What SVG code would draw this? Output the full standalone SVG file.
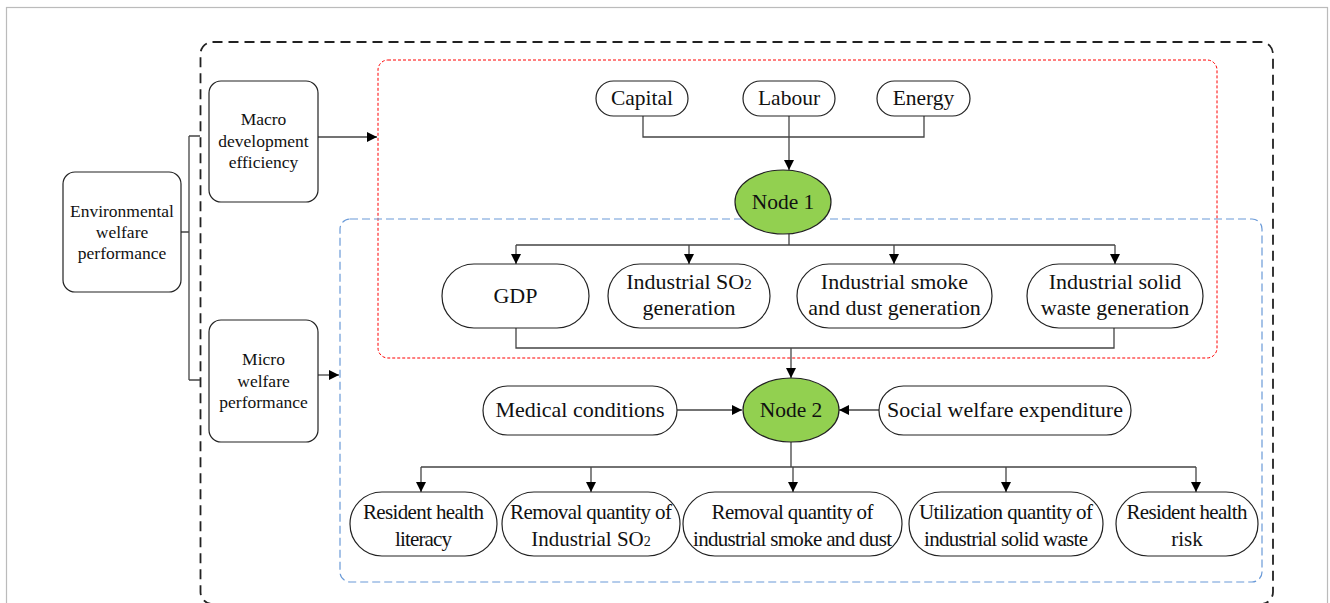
<svg xmlns="http://www.w3.org/2000/svg" width="1330" height="603" viewBox="0 0 1330 603">
<defs>
<marker id="ah" viewBox="0 0 10 10" refX="10" refY="5" markerWidth="10" markerHeight="10" markerUnits="userSpaceOnUse" orient="auto">
<path d="M0,0 L10,5 L0,10 Z" fill="#000"/>
</marker>
<style>
.box{fill:#fff;stroke:#222;stroke-width:1.2}
.node{fill:#92d050;stroke:#222;stroke-width:1.2}
.c{fill:none;stroke:#444;stroke-width:1.3}
.a{fill:none;stroke:#444;stroke-width:1.3;marker-end:url(#ah)}
</style>
</defs>
<rect x="0" y="0" width="1330" height="603" fill="#fff"/>
<rect x="6.5" y="7.5" width="1321" height="620" fill="none" stroke="#bbb" stroke-width="1.2"/>
<g id="frames">
<rect x="200.5" y="42" width="1072.5" height="562" rx="12" fill="none" stroke="#222" stroke-width="1.8" stroke-dasharray="10,6"/>
<rect x="378" y="60" width="839" height="298" rx="10" fill="none" stroke="#f00" stroke-width="1" stroke-dasharray="3,2"/>
<rect x="340" y="219" width="922" height="363" rx="10" fill="none" stroke="#6a9ad8" stroke-width="1.2" stroke-dasharray="8,4"/>
</g>
<g id="connectors">
<path class="c" d="M181,232 H189 M189,136 V380 M189,136 H200 M189,380 H200"/>
<path class="a" d="M318,137 H377"/>
<path class="a" d="M318,375 H339"/>
<path class="c" d="M643,116 V137 H924 V116"/>
<path class="a" d="M789,116 V170"/>
<path class="c" d="M789,234 V245 M516,245 H1115"/>
<path class="a" d="M516,245 V264"/>
<path class="a" d="M689,245 V264"/>
<path class="a" d="M894,245 V264"/>
<path class="a" d="M1115,245 V264"/>
<path class="c" d="M516,328 V348 H1114 V328"/>
<path class="a" d="M791,348 V378"/>
<path class="a" d="M677,410 H742"/>
<path class="a" d="M879,410 H839"/>
<path class="c" d="M791,442 V467 M421,467 H1196"/>
<path class="a" d="M421,467 V492"/>
<path class="a" d="M591,467 V492"/>
<path class="a" d="M793,467 V492"/>
<path class="a" d="M1006,467 V492"/>
<path class="a" d="M1196,467 V492"/>
</g>
<g font-family="'Liberation Serif', serif" fill="#111" text-anchor="middle">
<g id="env" font-size="17.5">
<rect class="box" x="63" y="172" width="118" height="120" rx="12"/>
<text x="122" y="217">Environmental</text>
<text x="122" y="238">welfare</text>
<text x="122" y="259">performance</text>
</g>
<g id="macro" font-size="17.5">
<rect class="box" x="209" y="81" width="109" height="121" rx="12"/>
<text x="263.5" y="125">Macro</text>
<text x="263.5" y="147">development</text>
<text x="263.5" y="168">efficiency</text>
</g>
<g id="micro" font-size="17.5">
<rect class="box" x="209" y="320" width="109" height="122" rx="12"/>
<text x="263.5" y="365">Micro</text>
<text x="263.5" y="387">welfare</text>
<text x="263.5" y="408">performance</text>
</g>
<g id="capital" font-size="21.5">
<rect class="box" x="596" y="81" width="92" height="35" rx="17.5"/>
<text x="642" y="105">Capital</text>
</g>
<g id="labour" font-size="21.5">
<rect class="box" x="743" y="81" width="92" height="35" rx="17.5"/>
<text x="789" y="105">Labour</text>
</g>
<g id="energy" font-size="21.5">
<rect class="box" x="877" y="81" width="93" height="35" rx="17.5"/>
<text x="923.5" y="105">Energy</text>
</g>
<g id="node1" font-size="21.5">
<ellipse class="node" cx="783" cy="202" rx="48" ry="32"/>
<text x="783" y="209">Node 1</text>
</g>
<g id="gdp" font-size="22">
<rect class="box" x="442" y="264" width="147" height="64" rx="32"/>
<text x="515.5" y="303">GDP</text>
</g>
<g id="so2gen" font-size="22">
<rect class="box" x="608" y="264" width="162" height="64" rx="32"/>
<text x="689" y="289">Industrial SO<tspan font-size="15">2</tspan></text>
<text x="689" y="315">generation</text>
</g>
<g id="smokegen" font-size="22">
<rect class="box" x="797" y="264" width="195" height="64" rx="32"/>
<text x="894.5" y="289">Industrial smoke</text>
<text x="894.5" y="315">and dust generation</text>
</g>
<g id="solidgen" font-size="22">
<rect class="box" x="1027" y="264" width="176" height="64" rx="32"/>
<text x="1115" y="289">Industrial solid</text>
<text x="1115" y="315">waste generation</text>
</g>
<g id="medical" font-size="22">
<rect class="box" x="483" y="386" width="194" height="49" rx="24.5"/>
<text x="580" y="417">Medical conditions</text>
</g>
<g id="node2" font-size="21.5">
<ellipse class="node" cx="791" cy="410" rx="48" ry="32"/>
<text x="791" y="417">Node 2</text>
</g>
<g id="social" font-size="22">
<rect class="box" x="879" y="386" width="252" height="49" rx="24.5"/>
<text x="1005" y="417">Social welfare expenditure</text>
</g>
<g id="literacy" font-size="21">
<rect class="box" x="350" y="492" width="147" height="64" rx="32"/>
<text x="423.5" y="519" textLength="121">Resident health</text>
<text x="423.5" y="546" textLength="57">literacy</text>
</g>
<g id="removalso2" font-size="21">
<rect class="box" x="502" y="492" width="178" height="64" rx="32"/>
<text x="591" y="519" textLength="162">Removal quantity of</text>
<text x="591" y="546">Industrial SO<tspan font-size="14">2</tspan></text>
</g>
<g id="removalsmoke" font-size="21">
<rect class="box" x="683" y="492" width="219" height="64" rx="32"/>
<text x="792.5" y="519" textLength="162">Removal quantity of</text>
<text x="792.5" y="546" textLength="199">industrial smoke and dust</text>
</g>
<g id="utilization" font-size="21">
<rect class="box" x="909" y="492" width="194" height="64" rx="32"/>
<text x="1006" y="519" textLength="174">Utilization quantity of</text>
<text x="1006" y="546" textLength="164">industrial solid waste</text>
</g>
<g id="risk" font-size="21">
<rect class="box" x="1116" y="492" width="142" height="64" rx="32"/>
<text x="1187" y="519" textLength="121">Resident health</text>
<text x="1187" y="546">risk</text>
</g>
</g>
</svg>
